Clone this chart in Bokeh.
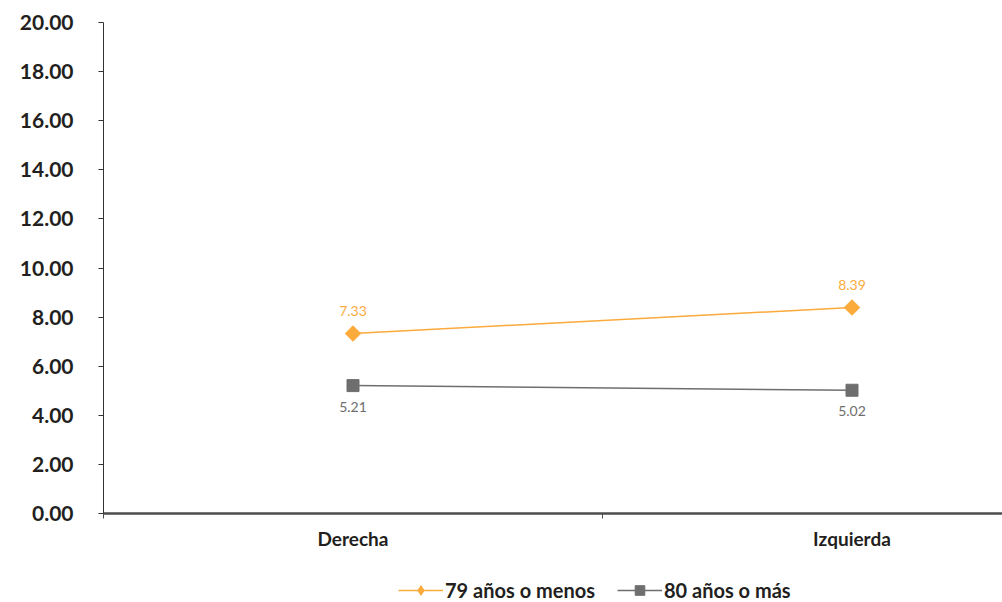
import math
from bokeh.plotting import figure
from bokeh.layouts import column
from bokeh.models import Range1d, FixedTicker, Legend, LegendItem, ColumnDataSource
from bokeh.core.properties import value
from bokeh.embed import file_html
from bokeh.resources import INLINE

categories = ["Derecha", "Izquierda"]
serie_79 = [7.33, 8.39]
serie_80 = [5.21, 5.02]
label_79 = "79 años o menos"
label_80 = "80 años o más"
y_ticks = [0, 2, 4, 6, 8, 10, 12, 14, 16, 18, 20]

ORANGE = "#FBAA3C"
GRAY = "#6E6E6E"
FONT = "Lato"

xs = [i + 0.5 for i in range(len(categories))]

p = figure(width=1002, height=552, output_backend="svg", toolbar_location=None,
           x_range=Range1d(0, 1.8016), y_range=Range1d(0, 20),
           min_border_left=103, min_border_right=0, min_border_top=22, min_border_bottom=38)
p.outline_line_color = None
p.xgrid.grid_line_color = None
p.ygrid.grid_line_color = None

# y axis
p.yaxis.ticker = FixedTicker(ticks=y_ticks)
p.yaxis.major_label_overrides = {t: f"{t:.2f}" for t in y_ticks}
p.yaxis.major_label_text_font = FONT
p.yaxis.major_label_text_font_style = "bold"
p.yaxis.major_label_text_font_size = "21px"
p.yaxis.major_label_text_color = "#231F20"
p.yaxis.major_label_standoff = 25
p.yaxis.axis_line_color = "#333333"
p.yaxis.major_tick_line_color = "#333333"
p.yaxis.major_tick_out = 5
p.yaxis.major_tick_in = 0
p.yaxis.minor_tick_line_color = None

# x axis
p.xaxis.ticker = FixedTicker(ticks=xs, minor_ticks=list(range(len(categories))))
p.xaxis.major_label_overrides = {x: c for x, c in zip(xs, categories)}
p.xaxis.major_label_text_font = FONT
p.xaxis.major_label_text_font_style = "bold"
p.xaxis.major_label_text_font_size = "19px"
p.xaxis.major_label_text_color = "#231F20"
p.xaxis.major_label_standoff = 7
p.xaxis.major_tick_line_color = None
p.xaxis.axis_line_color = "#4D4D4D"
p.xaxis.axis_line_width = 2.5
p.xaxis.minor_tick_line_color = "#4D4D4D"
p.xaxis.minor_tick_out = 5
p.xaxis.minor_tick_in = 0

src79 = ColumnDataSource(dict(x=xs, y=serie_79, t=[f"{v:.2f}" for v in serie_79]))
src80 = ColumnDataSource(dict(x=xs, y=serie_80, t=[f"{v:.2f}" for v in serie_80]))

p.line("x", "y", source=src79, line_color=ORANGE, line_width=1.5)
p.scatter("x", "y", source=src79, marker="square", angle=math.pi / 4, size=11,
          fill_color=ORANGE, line_color=ORANGE)
p.line("x", "y", source=src80, line_color=GRAY, line_width=1.5)
p.scatter("x", "y", source=src80, marker="square", size=12, fill_color=GRAY, line_color=GRAY)

p.text("x", "y", text="t", source=src79, y_offset=-23, text_align="center", text_baseline="middle",
       text_font=value(FONT), text_font_size="14px", text_color=ORANGE)
p.text("x", "y", text="t", source=src80, y_offset=21, text_align="center", text_baseline="middle",
       text_font=value(FONT), text_font_size="14px", text_color=GRAY)

# legend figure (glyphs placed outside its visible range, only the legend shows)
lf = figure(width=1002, height=50, output_backend="svg", toolbar_location=None,
            x_range=Range1d(0, 1), y_range=Range1d(0, 1),
            min_border_left=103, min_border_right=0, min_border_top=0, min_border_bottom=0)
lf.axis.visible = False
lf.grid.visible = False
lf.outline_line_color = None
hidden = dict(x=[-10, -9], y=[-10, -10])
ll79 = lf.line(x="x", y="y", source=ColumnDataSource(hidden), line_color=ORANGE, line_width=1.5)
lm79 = lf.scatter(x="x", y="y", source=ColumnDataSource(hidden), marker="diamond",
                  size=18, fill_color=ORANGE, line_color=ORANGE)
ll80 = lf.line(x="x", y="y", source=ColumnDataSource(hidden), line_color=GRAY, line_width=1.5)
lm80 = lf.scatter(x="x", y="y", source=ColumnDataSource(hidden), marker="square", size=13,
                  fill_color=GRAY, line_color=GRAY)

legend = Legend(items=[LegendItem(label=label_79, renderers=[ll79, lm79]),
                       LegendItem(label=label_80, renderers=[ll80, lm80])],
                orientation="horizontal", location=(295, 0),
                border_line_color=None, background_fill_alpha=0,
                label_text_font=FONT, label_text_font_style="bold",
                label_text_font_size="20px", label_text_color="#231F20",
                glyph_width=45, glyph_height=24, spacing=22, label_standoff=2,
                margin=0, padding=2)
lf.add_layout(legend, "center")

layout = column(p, lf, spacing=0)
open("out.html", "w").write(file_html(layout, INLINE))
